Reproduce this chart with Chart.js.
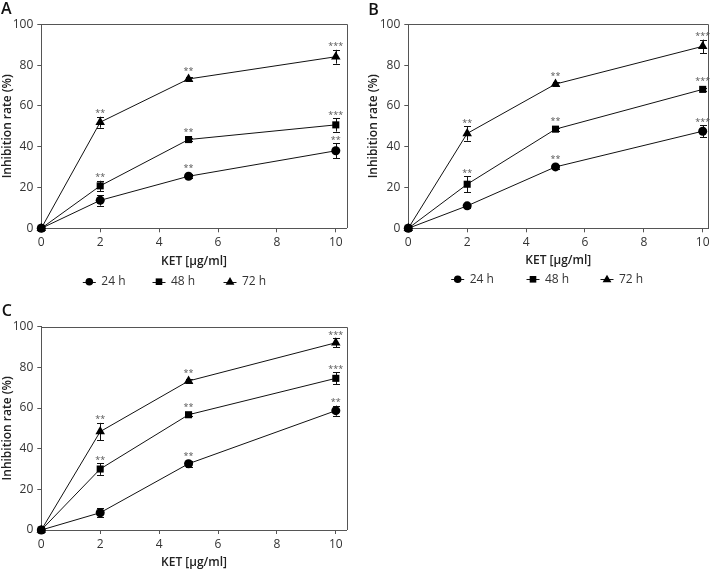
<!DOCTYPE html>
<html>
<head>
<meta charset="utf-8">
<script src="https://cdn.jsdelivr.net/npm/chart.js@4.4.1/dist/chart.umd.min.js"></script>
<style>
  html, body { margin: 0; padding: 0; background: #fff; }
  #wrap { position: relative; width: 714px; height: 570px; }
  .panel { position: absolute; }
</style>
</head>
<body>
<div id="wrap">
  <div class="panel" style="left:0;top:0"><canvas id="chartA" width="360" height="290"></canvas></div>
  <div class="panel" style="left:360px;top:0"><canvas id="chartB" width="354" height="290"></canvas></div>
  <div class="panel" style="left:0;top:290px"><canvas id="chartC" width="360" height="280"></canvas></div>
</div>
<script>
// shared axes
const doses = [0, 2, 5, 10];
const xTicks = [0, 2, 4, 6, 8, 10];
const yTicks = [0, 20, 40, 60, 80, 100];
const seriesNames = ['24 h', '48 h', '72 h'];

// panel A
const a24 = [0, 13.7, 25.5, 38.0];
const a24Err = [0.8, 2.6, 1.0, 3.6];
const a24Sig = ['', '', '**', '**'];
const a48 = [0, 20.8, 43.5, 50.7];
const a48Err = [0.8, 2.5, 0.8, 3.3];
const a48Sig = ['', '**', '**', '***'];
const a72 = [0, 52.0, 73.2, 84.1];
const a72Err = [0.8, 2.7, 0.8, 3.4];
const a72Sig = ['', '**', '**', '***'];

// panel B
const b24 = [0, 11.0, 30.1, 47.6];
const b24Err = [0.8, 1.0, 1.0, 3.0];
const b24Sig = ['', '', '**', '***'];
const b48 = [0, 21.6, 48.6, 68.1];
const b48Err = [0.8, 3.8, 0.8, 0.8];
const b48Sig = ['', '**', '**', '***'];
const b72 = [0, 46.5, 70.7, 89.2];
const b72Err = [0.8, 3.5, 0.8, 3.3];
const b72Sig = ['', '**', '**', '***'];

// panel C
const c24 = [0, 8.5, 32.6, 58.7];
const c24Err = [0.8, 2.2, 1.5, 2.5];
const c24Sig = ['', '', '**', '**'];
const c48 = [0, 30.0, 56.7, 74.6];
const c48Err = [0.8, 2.9, 0.8, 3.0];
const c48Sig = ['', '**', '**', '***'];
const c72 = [0, 48.4, 73.3, 92.1];
const c72Err = [0.8, 4.3, 0.8, 2.3];
const c72Sig = ['', '**', '**', '***'];

const FONT = "'Open Sans', 'DejaVu Sans', sans-serif";
const markerStyles = ['circle', 'rect', 'triangle'];
const markerRadius = [4.5, 5, 5.5];

function drawMarker(ctx, style, x, y, r) {
  ctx.beginPath();
  if (style === 'circle') {
    ctx.arc(x, y, r, 0, Math.PI * 2);
  } else if (style === 'rect') {
    ctx.rect(x - r, y - r, 2 * r, 2 * r);
  } else {
    ctx.moveTo(x, y - r * 1.1);
    ctx.lineTo(x + r * 1.05, y + r * 0.7);
    ctx.lineTo(x - r * 1.05, y + r * 0.7);
    ctx.closePath();
  }
  ctx.fill();
}

// error bars, asterisks, frame, panel letter and legend
const panelDecor = {
  id: 'panelDecor',
  beforeDatasetsDraw(chart) {
    const ctx = chart.ctx;
    const yScale = chart.scales.y;
    ctx.save();
    ctx.strokeStyle = '#111';
    ctx.lineWidth = 1;
    chart.data.datasets.forEach((ds, i) => {
      const meta = chart.getDatasetMeta(i);
      meta.data.forEach((pt, j) => {
        const e = ds.err[j];
        if (!e) return;
        const yTop = yScale.getPixelForValue(ds.data[j].y + e);
        const yBot = yScale.getPixelForValue(ds.data[j].y - e);
        const x = Math.round(pt.x) + 0.5;
        ctx.beginPath();
        ctx.moveTo(x, yTop);
        ctx.lineTo(x, yBot);
        ctx.moveTo(x - 3.5, Math.round(yTop) + 0.5);
        ctx.lineTo(x + 3.5, Math.round(yTop) + 0.5);
        ctx.moveTo(x - 3.5, Math.round(yBot) + 0.5);
        ctx.lineTo(x + 3.5, Math.round(yBot) + 0.5);
        ctx.stroke();
      });
    });
    ctx.restore();
  },
  afterDatasetsDraw(chart) {
    const ctx = chart.ctx;
    const yScale = chart.scales.y;
    ctx.save();
    ctx.fillStyle = '#555';
    ctx.font = '9px ' + FONT;
    ctx.textAlign = 'center';
    ctx.textBaseline = 'alphabetic';
    chart.data.datasets.forEach((ds, i) => {
      const meta = chart.getDatasetMeta(i);
      meta.data.forEach((pt, j) => {
        if (!ds.sig[j]) return;
        const yTop = Math.min(yScale.getPixelForValue(ds.data[j].y + ds.err[j]), pt.y - 4.5);
        ctx.fillText(ds.sig[j], pt.x, yTop - 0.5);
      });
    });
    ctx.restore();
  },
  afterDraw(chart, args, opts) {
    const ctx = chart.ctx;
    const a = chart.chartArea;
    ctx.save();
    // top and right frame
    ctx.strokeStyle = '#555';
    ctx.lineWidth = 1;
    ctx.beginPath();
    ctx.moveTo(Math.round(a.left), Math.round(a.top) + 0.5);
    ctx.lineTo(Math.round(a.right) + 0.5, Math.round(a.top) + 0.5);
    ctx.lineTo(Math.round(a.right) + 0.5, Math.round(a.bottom));
    ctx.stroke();
    // panel letter
    ctx.fillStyle = '#111';
    ctx.font = '600 16px ' + FONT;
    ctx.textAlign = 'left';
    ctx.textBaseline = 'alphabetic';
    ctx.fillText(opts.letter, opts.letterX, opts.letterY);
    // legend
    if (opts.legendXs) {
      ctx.font = '12px ' + FONT;
      ctx.textBaseline = 'middle';
      const y = opts.legendY;
      seriesNames.forEach((name, i) => {
        const cx = opts.legendXs[i];
        ctx.strokeStyle = '#111';
        ctx.beginPath();
        ctx.moveTo(cx - 6.5, Math.round(y) + 0.5);
        ctx.lineTo(cx + 6.5, Math.round(y) + 0.5);
        ctx.stroke();
        ctx.fillStyle = '#000';
        drawMarker(ctx, markerStyles[i], cx, y, [3.8, 3.3, 4.2][i]);
        ctx.fillStyle = '#333';
        ctx.fillText(name, cx + 12, y);
      });
    }
    ctx.restore();
  }
};

function makeSet(idx, vals, err, sig) {
  return {
    label: seriesNames[idx],
    data: doses.map((x, i) => ({ x: x, y: vals[i] })),
    err: err,
    sig: sig,
    borderColor: '#111',
    borderWidth: 1,
    tension: 0,
    pointStyle: markerStyles[idx],
    pointRadius: markerRadius[idx],
    pointBackgroundColor: '#000',
    pointBorderColor: '#000',
    pointBorderWidth: 0,
    clip: false
  };
}

function makePanel(id, p) {
  const tickFont = { family: FONT, size: 12 };
  return new Chart(document.getElementById(id), {
    type: 'line',
    data: { datasets: p.sets },
    plugins: [panelDecor],
    options: {
      responsive: false,
      animation: false,
      devicePixelRatio: 1,
      layout: { padding: { left: p.padLeft, top: p.padTop, right: p.padRight, bottom: 0 } },
      plugins: {
        legend: { display: false },
        tooltip: { enabled: false },
        panelDecor: {
          letter: p.letter, letterX: p.letterX, letterY: p.letterY,
          legendXs: p.legendXs, legendY: p.legendY
        }
      },
      scales: {
        x: {
          type: 'linear',
          min: 0,
          max: p.xMax,
          afterBuildTicks: s => { s.ticks = xTicks.map(v => ({ value: v })); },
          afterFit: s => { s.height = p.xHeight; },
          ticks: { font: tickFont, color: '#333', padding: 3, maxRotation: 0 },
          grid: { drawOnChartArea: false, drawTicks: true, tickLength: 4, color: '#555' },
          border: { display: true, color: '#555', width: 1 },
          title: {
            display: true, text: 'KET [µg/ml]', color: '#222',
            font: { family: FONT, size: 12, weight: '600' },
            padding: { top: 0, bottom: p.xTitlePad }
          }
        },
        y: {
          min: 0,
          max: 100,
          afterBuildTicks: s => { s.ticks = yTicks.map(v => ({ value: v })); },
          afterFit: s => { s.width = p.yWidth; },
          ticks: { font: tickFont, color: '#333', padding: 4 },
          grid: { drawOnChartArea: false, drawTicks: true, tickLength: 4, color: '#555' },
          border: { display: true, color: '#555', width: 1 },
          title: {
            display: true, text: 'Inhibition rate (%)', color: '#222',
            font: { family: FONT, size: 12, weight: '600' },
            padding: { top: 0, bottom: 0 }
          }
        }
      }
    }
  });
}

makePanel('chartA', {
  sets: [makeSet(0, a24, a24Err, a24Sig), makeSet(1, a48, a48Err, a48Sig), makeSet(2, a72, a72Err, a72Sig)],
  letter: 'A', letterX: 1, letterY: 13.5,
  legendXs: [89.3, 159, 230], legendY: 281.7,
  xMax: 10.37, padLeft: 0, padTop: 24.3, padRight: 13.3,
  yWidth: 41.3, xHeight: 61.7, xTitlePad: 20.8
});

makePanel('chartB', {
  sets: [makeSet(0, b24, b24Err, b24Sig), makeSet(1, b48, b48Err, b48Sig), makeSet(2, b72, b72Err, b72Sig)],
  letter: 'B', letterX: 8.3, letterY: 15,
  legendXs: [97.7, 173, 247], legendY: 279.3,
  xMax: 10.19, padLeft: 6, padTop: 24.3, padRight: 5.7,
  yWidth: 42.3, xHeight: 61.7, xTitlePad: 22
});

makePanel('chartC', {
  sets: [makeSet(0, c24, c24Err, c24Sig), makeSet(1, c48, c48Err, c48Sig), makeSet(2, c72, c72Err, c72Sig)],
  letter: 'C', letterX: 1.7, letterY: 26,
  legendXs: null, legendY: 0,
  xMax: 10.37, padLeft: 0, padTop: 36.7, padRight: 13.3,
  yWidth: 41.3, xHeight: 40, xTitlePad: 0
});
</script>
</body>
</html>
